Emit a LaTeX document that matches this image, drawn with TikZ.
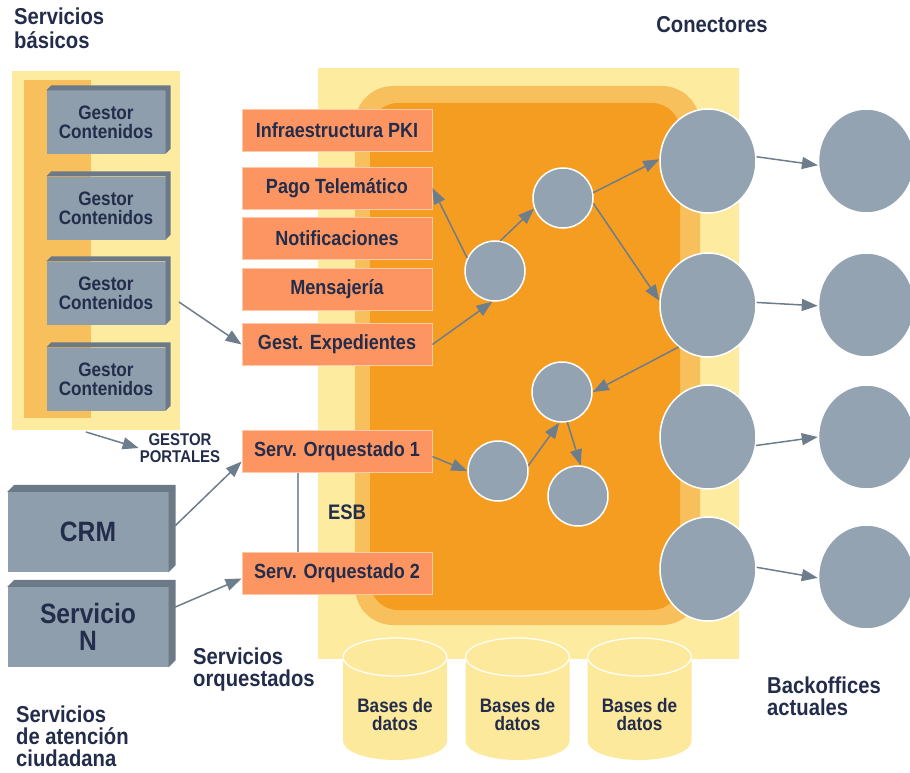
\documentclass[tikz,border=0pt]{standalone}
\usepackage{fontspec}
\setmainfont{Liberation Sans}[FakeStretch=0.88]
\usetikzlibrary{positioning, arrows.meta, shapes.geometric}

\definecolor{navy}{HTML}{232D4B}
\definecolor{paleyellow}{HTML}{FDEBA0}
\definecolor{midorange}{HTML}{F8C05C}
\definecolor{esborange}{HTML}{F59D21}
\definecolor{boxorange}{HTML}{FD9562}
\definecolor{boxedge}{HTML}{FDC9A6}
\definecolor{nodegray}{HTML}{94A3B1}
\definecolor{slabgray}{HTML}{8F9EAC}
\definecolor{slabdark}{HTML}{6C7987}
\definecolor{arrowgray}{HTML}{6E7D8C}
\definecolor{dbyellow}{HTML}{FDE99C}

\begin{document}
\begin{tikzpicture}[x=1pt, y=-1pt,
    every node/.style={text=navy, font=\bfseries},
    service/.style={rectangle, fill=boxorange, draw=boxedge, line width=0.8pt,
        minimum width=190pt, minimum height=42pt, font=\bfseries\fontsize{20.5}{22}\selectfont},
    slab/.style={rectangle, fill=slabgray, align=center, inner sep=0pt},
    bus/.style={circle, fill=nodegray, draw=white, line width=1.5pt, minimum size=60pt},
    conn/.style={ellipse, fill=nodegray, draw=white, line width=1.5pt,
        minimum width=96pt, minimum height=104pt},
    flow/.style={draw=arrowgray, line width=1.5pt, -{Triangle[length=16pt, width=12pt]}},
    title/.style={align=left, anchor=north west, inner sep=0pt, font=\bfseries\fontsize{23}{23}\selectfont}]

    \useasboundingbox (0,0) rectangle (910,773);

    % servicios basicos
    \fill[paleyellow] (12,71) rectangle (180,430);
    \fill[midorange] (24,80) rectangle (91,418);
    % ESB
    \fill[paleyellow] (318,68) rectangle (739,659);
    \fill[midorange, rounded corners=38pt] (355,86) rectangle (700,625);
    \fill[esborange, rounded corners=28pt] (370,103) rectangle (680,610);

    \node[slab, minimum width=119pt, minimum height=63pt, font=\bfseries\fontsize{19.5}{19}\selectfont] (g1) at (106,122) {Gestor\\Contenidos};
    \node[slab, minimum width=119pt, minimum height=63pt, font=\bfseries\fontsize{19.5}{19}\selectfont] (g2) at (106,208) {Gestor\\Contenidos};
    \node[slab, minimum width=119pt, minimum height=63pt, font=\bfseries\fontsize{19.5}{19}\selectfont] (g3) at (106,293) {Gestor\\Contenidos};
    \node[slab, minimum width=119pt, minimum height=63pt, font=\bfseries\fontsize{19.5}{19}\selectfont] (g4) at (106,379) {Gestor\\Contenidos};
    \node[slab, minimum width=161pt, minimum height=80pt, font=\bfseries\fontsize{28}{27}\selectfont] (crm) at (88,532) {CRM};
    \node[slab, minimum width=161pt, minimum height=80pt, font=\bfseries\fontsize{28}{27}\selectfont] (servn) at (88,627) {Servicio\\N};
    \foreach \b/\d in {g1/5, g2/5, g3/5, g4/5, crm/7, servn/7}
        \fill[slabdark] (\b.north west) -- ++(\d,-\d) -- ([shift={(\d,-\d)}]\b.north east)
            -- ([shift={(\d,-\d)}]\b.south east) -- (\b.south east) -- (\b.north east) -- cycle;

    \node[service] (infra) at (337,130.5) {Infraestructura PKI};
    \node[service] (pago) at (337,188) {Pago Telemático};
    \node[service] (notif) at (337,238.5) {Notificaciones};
    \node[service] (mens) at (337,289.5) {Mensajería};
    \node[service] (gest) at (337,344.5) {Gest. Expedientes};
    \node[service] (so1) at (337,451.5) {Serv. Orquestado 1};
    \node[service] (so2) at (337,573.5) {Serv. Orquestado 2};

    \node[bus] (c1) at (495,271) {};
    \node[bus] (c2) at (563,198) {};
    \node[bus] (c3) at (562,392) {};
    \node[bus] (c4) at (498,471) {};
    \node[bus] (c5) at (578,496) {};

    \node[conn] (b1) at (708,161) {};
    \node[conn] (b2) at (708,305) {};
    \node[conn] (b3) at (708,437) {};
    \node[conn] (b4) at (708,569) {};
    \node[conn, right=61pt of b1] (r1) {};
    \node[conn, right=61pt of b2] (r2) {};
    \node[conn, right=61pt of b3] (r3) {};
    \node[conn, right=61pt of b4, yshift=-8pt] (r4) {};

    % bases de datos
    \foreach \x/\n in {395/db1, 517.5/db2, 639.5/db3} {
        \fill[dbyellow] (\x-52,657) -- (\x-52,741) arc[start angle=180, end angle=0, x radius=52, y radius=19] -- (\x+52,657) -- cycle;
        \draw[white, line width=1.2pt, fill=dbyellow] (\x,657) ellipse[x radius=52, y radius=19];
        \node[align=center, font=\bfseries\fontsize{19.5}{18}\selectfont] (\n) at (\x,715) {Bases de\\datos};
    }

    \node[title, font=\bfseries\fontsize{23}{24}\selectfont] (basicos) at (14,8) {Servicios\\básicos};
    \node[font=\bfseries\fontsize{23}{23}\selectfont] (conectores) at (712,25) {Conectores};
    \node[title, font=\bfseries\fontsize{23}{22}\selectfont] (orquestados) at (193,648) {Servicios\\orquestados};
    \node[title, font=\bfseries\fontsize{23}{22}\selectfont] (ciudadana) at (16,706) {Servicios\\de atención\\ciudadana};
    \node[title, font=\bfseries\fontsize{23}{22}\selectfont] (backoffices) at (767,677) {Backoffices\\actuales};
    \node[font=\bfseries\fontsize{21}{22}\selectfont] (esb) at (347,512) {ESB};
    \node[align=center, inner sep=1pt, font=\bfseries\fontsize{17}{16.5}\selectfont] (portales) at (180,448) {GESTOR\\PORTALES};
    \coordinate (pstart) at (86,432);

    \draw[flow] (pstart) -- (portales.west);
    \draw[flow, shorten <=16pt] (g3.east) -- (gest.west);
    \draw[flow, shorten <=9pt] (crm.east) -- (so1.186);
    \draw[flow, shorten <=7pt] (servn.12) -- (so2.183);
    \draw[arrowgray!80, line width=1.5pt] ([xshift=-39pt]so1.south) -- ([xshift=-39pt]so2.north);

    \draw[flow] (c1.155) -- (pago.east);
    \draw[flow] (gest.east) -- (c1.265);
    \draw[flow] (c1.80) -- (c2.200);
    \draw[flow] (c2.10) -- (b1.178);
    \draw[flow] (c2.-10) -- (b2.175);
    \draw[flow] (b2.235) -- (c3.east);
    \draw[flow] (so1.-3) -- (c4.west);
    \draw[flow] (c4.10) -- (c3.265);
    \draw[flow] (c3.-80) -- (c5.85);
    \draw[flow] (b1.5) -- (r1.185);
    \draw[flow] (b2.3) -- (r2.181);
    \draw[flow] (b3.-10) -- (r3.west);
    \draw[flow] (b4.2) -- (r4.181);
\end{tikzpicture}
\end{document}
